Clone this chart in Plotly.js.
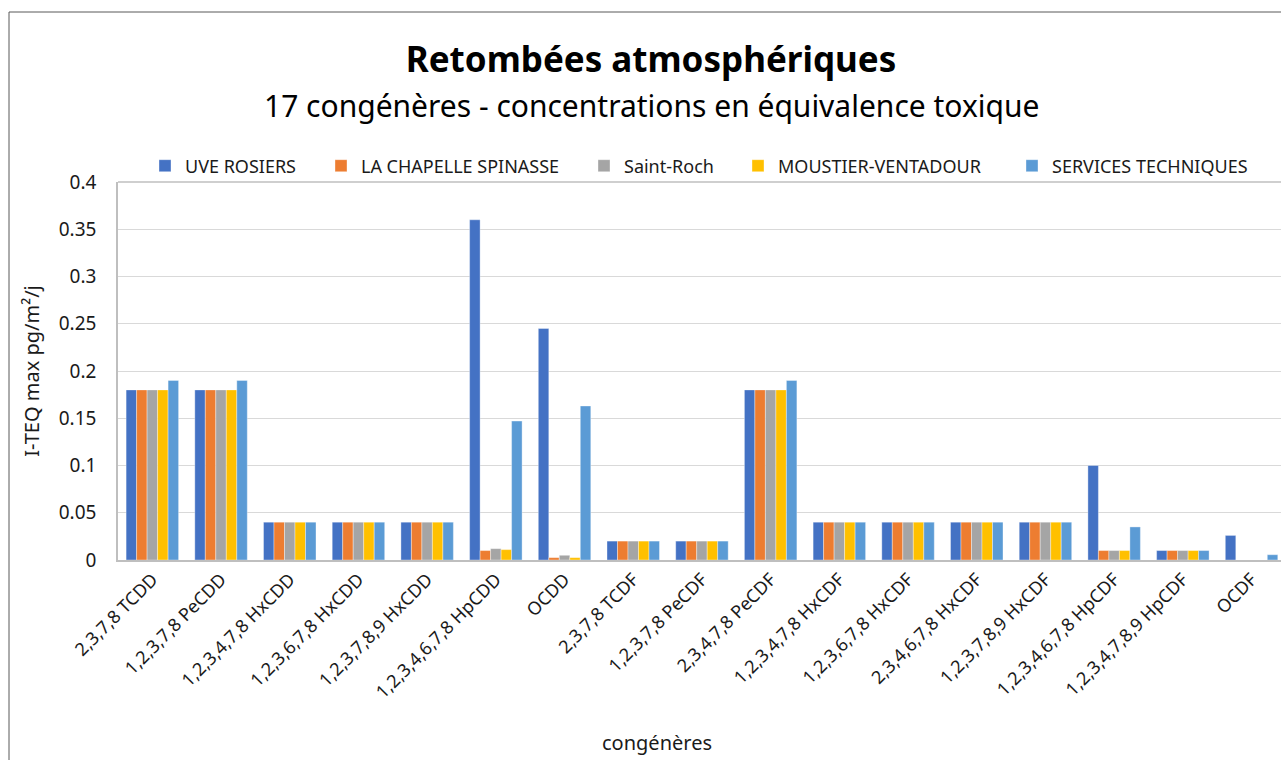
<!DOCTYPE html>
<html>
<head>
<meta charset="utf-8">
<script src="https://cdn.plot.ly/plotly-3.0.1.min.js"></script>
<style>
html,body{margin:0;padding:0;background:#fff;overflow:hidden;}
#chart{width:1281px;height:760px;}
</style>
</head>
<body>
<div id="chart"></div>
<script>
const categories = [
  "2,3,7,8 TCDD", "1,2,3,7,8 PeCDD", "1,2,3,4,7,8 HxCDD", "1,2,3,6,7,8 HxCDD",
  "1,2,3,7,8,9 HxCDD", "1,2,3,4,6,7,8 HpCDD", "OCDD", "2,3,7,8 TCDF",
  "1,2,3,7,8 PeCDF", "2,3,4,7,8 PeCDF", "1,2,3,4,7,8 HxCDF", "1,2,3,6,7,8 HxCDF",
  "2,3,4,6,7,8 HxCDF", "1,2,3,7,8,9 HxCDF", "1,2,3,4,6,7,8 HpCDF", "1,2,3,4,7,8,9 HpCDF", "OCDF"
];
const seriesNames = ["UVE ROSIERS", "LA CHAPELLE SPINASSE", "Saint-Roch", "MOUSTIER-VENTADOUR", "SERVICES TECHNIQUES"];
const uveRosiers        = [0.18, 0.18, 0.04, 0.04, 0.04, 0.36,  0.245,  0.02, 0.02, 0.18, 0.04, 0.04, 0.04, 0.04, 0.1,   0.01, 0.026];
const laChapelle        = [0.18, 0.18, 0.04, 0.04, 0.04, 0.01,  0.0025, 0.02, 0.02, 0.18, 0.04, 0.04, 0.04, 0.04, 0.01,  0.01, 0];
const saintRoch         = [0.18, 0.18, 0.04, 0.04, 0.04, 0.012, 0.005,  0.02, 0.02, 0.18, 0.04, 0.04, 0.04, 0.04, 0.01,  0.01, 0];
const moustier          = [0.18, 0.18, 0.04, 0.04, 0.04, 0.011, 0.0025, 0.02, 0.02, 0.18, 0.04, 0.04, 0.04, 0.04, 0.01,  0.01, 0];
const servicesTech      = [0.19, 0.19, 0.04, 0.04, 0.04, 0.147, 0.163,  0.02, 0.02, 0.19, 0.04, 0.04, 0.04, 0.04, 0.035, 0.01, 0.0056];
const seriesValues = [uveRosiers, laChapelle, saintRoch, moustier, servicesTech];
const colors = ["#4472C4", "#ED7D31", "#A5A5A5", "#FFC000", "#5B9BD5"];
const yTicks = [0, 0.05, 0.1, 0.15, 0.2, 0.25, 0.3, 0.35, 0.4];
const yTickLabels = ["0", "0.05", "0.1", "0.15", "0.2", "0.25", "0.3", "0.35", "0.4"];

const FONT = "Noto Sans, Open Sans, sans-serif";
const L = 118, W = 1281, PT = 182, PB = 560, H = 760;
const pw = W - L, ph = PB - PT;
const px2x = p => (p - L) / pw;
const px2y = p => (PB - p) / ph;

// legend text start positions in the reference (px)
const legendTextStart = [183, 359, 622, 776, 1050];
const legendIds = ["legend", "legend2", "legend3", "legend4", "legend5"];

const traces = seriesNames.map((name, i) => ({
  type: "bar",
  name: name,
  x: categories,
  y: seriesValues[i],
  legend: legendIds[i],
  marker: {color: colors[i], line: {color: "rgba(255,255,255,0.6)", width: 0.6}},
  hoverinfo: "x+y+name"
}));

const layout = {
  width: W, height: H,
  margin: {l: L, r: 0, t: PT, b: H - PB, pad: 0},
  paper_bgcolor: "#fff", plot_bgcolor: "#fff",
  font: {family: FONT, color: "#1a1a1a", size: 18},
  title: {
    text: "<b>Retombées atmosphériques</b>",
    font: {family: FONT, size: 35, color: "#000"},
    x: 651 / W, xref: "container", xanchor: "center",
    y: 1 - 60 / H, yref: "container", yanchor: "middle"
  },
  barmode: "group",
  bargap: 0.236,
  bargroupgap: 0,
  showlegend: true,
  xaxis: {
    type: "category",
    range: [-0.5, -0.5 + pw / 68.7],
    tickangle: -45,
    tickfont: {family: FONT, size: 18, color: "#1a1a1a"},
    showline: true, linecolor: "#bfbfbf", linewidth: 2,
    mirror: false, showgrid: false, ticks: "", fixedrange: true,
    automargin: false
  },
  yaxis: {
    range: [0, 0.4],
    tickvals: yTicks, ticktext: yTickLabels,
    tickfont: {family: FONT, size: 19, color: "#1a1a1a"},
    ticklabelstandoff: 16,
    showgrid: true, gridcolor: "#d9d9d9", gridwidth: 1,
    showline: true, linecolor: "#bfbfbf", linewidth: 1.5,
    zeroline: false, ticks: "", ticklen: 0,
    title: {text: "I-TEQ max pg/m²/j", font: {family: FONT, size: 20, color: "#1a1a1a"}, standoff: 14},
    automargin: false
  },
  annotations: [
    {text: "17 congénères - concentrations en équivalence toxique", xref: "paper", yref: "paper",
     x: px2x(651), y: px2y(106), xanchor: "center", yanchor: "middle", showarrow: false,
     font: {family: FONT, size: 30, color: "#000"}},
    {text: "congénères", xref: "paper", yref: "paper",
     x: px2x(657), y: px2y(742), xanchor: "center", yanchor: "middle", showarrow: false,
     font: {family: FONT, size: 20, color: "#1a1a1a"}}
  ],
  shapes: [
    {type: "line", xref: "paper", yref: "paper", x0: 0, x1: 1.05, y0: 1, y1: 1,
     line: {color: "#bfbfbf", width: 1.5}},
    {type: "line", xref: "paper", yref: "paper", x0: px2x(9), x1: px2x(9), y0: px2y(12), y1: px2y(780),
     line: {color: "#595959", width: 1}},
    {type: "line", xref: "paper", yref: "paper", x0: px2x(9), x1: 1.05, y0: px2y(12), y1: px2y(12),
     line: {color: "#595959", width: 1}}
  ]
};

legendIds.forEach((id, i) => {
  layout[id] = {
    orientation: "h", x: px2x(legendTextStart[i] - 38), xanchor: "left",
    y: px2y(166), yanchor: "middle",
    bgcolor: "rgba(0,0,0,0)", borderwidth: 0,
    font: {family: FONT, size: 18, color: "#1a1a1a"}, itemwidth: 30
  };
});

Plotly.newPlot("chart", traces, layout, {displayModeBar: false, staticPlot: false});
</script>
</body>
</html>
